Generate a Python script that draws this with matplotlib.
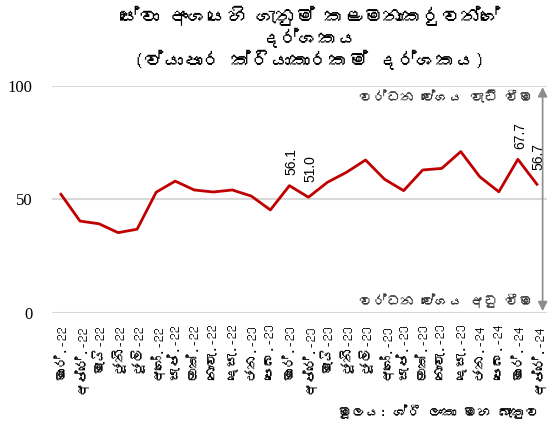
import matplotlib
matplotlib.use("Agg")
import matplotlib.pyplot as plt
from matplotlib import font_manager
from matplotlib.ft2font import FT2Font

# months (Mar-22 .. Apr-24) and index values
months = ["මාර්.-22", "අප්‍රේ.-22", "මැයි-22", "ජූනි-22", "ජූලි-22", "අගෝ.-22",
          "සැප්.-22", "ඔක්.-22", "නොවැ.-22", "දෙසැ.-22", "ජන.-23", "පෙබ.-23",
          "මාර්.-23", "අප්‍රේ.-23", "මැයි-23", "ජූනි-23", "ජූලි-23", "අගෝ.-23",
          "සැප්.-23", "ඔක්.-23", "නොවැ.-23", "දෙසැ.-23", "ජන.-24", "පෙබ.-24",
          "මාර්.-24", "අප්‍රේ.-24"]
values = [52.3, 40.5, 39.3, 35.4, 36.9, 53.2, 58.1, 54.2, 53.3, 54.2, 51.5, 45.4,
          56.1, 51.0, 57.6, 62.0, 67.4, 58.9, 53.9, 63.0, 63.7, 71.1, 60.0, 53.4,
          67.7, 56.7]
labelled = {12: "56.1", 13: "51.0", 24: "67.7", 25: "56.7"}
yticks = [0, 50, 100]

title = "සේවා අංශයෙහි ගැනුම් කළමනාකරුවන්ගේ\nදර්ශකය\n(ව්‍යාපාර ක්‍රියාකාරකම් දර්ශකය)"
up_txt = "වර්ධන වේගය වැඩි වීම"
down_txt = "වර්ධන වේගය අඩු වීම"
source = "මූලය: ශ්‍රී ලංකා මහ බැංකුව"


# look for any installed font that has Sinhala glyphs
def find_font(ch):
    for f in font_manager.fontManager.ttflist:
        try:
            if ord(ch) in FT2Font(f.fname).get_charmap():
                return f.name
        except Exception:
            pass
    return None


def clean(s):
    # no shaping engine here, so the zero width joiner would show as a box
    return s.replace("\u200d", "")


sin = find_font("ක")
fam = [sin, "DejaVu Sans"] if sin else ["DejaVu Sans"]
plt.rcParams["font.family"] = fam

fig = plt.figure(figsize=(5.49, 4.26), dpi=100)
ax = fig.add_axes([52 / 549, 1 - 313 / 426, 495 / 549, 227 / 426])

x = list(range(len(values)))
ax.plot(x, values, color="#c00000", lw=2, zorder=3)

for i, t in labelled.items():
    off = 4.5 if i % 2 == 0 else 6.5
    ax.text(i + 0.1, values[i] + off, t, rotation=90, ha="center", va="bottom",
            fontsize=10, family="Liberation Sans")

ax.set_xlim(-0.47, 25.53)
ax.set_ylim(0, 100)
ax.set_yticks(yticks)
ax.set_yticklabels([str(v) for v in yticks], family="Liberation Serif", fontsize=12)
ax.set_xticks(x)
ax.set_xticklabels([clean(m) for m in months], rotation=90, fontsize=10, family=fam)
ax.tick_params(length=0)
ax.tick_params(axis="y", pad=14)
ax.tick_params(axis="x", pad=8)
ax.grid(axis="y", color="#d9d9d9", lw=1.5)
ax.set_axisbelow(True)
for s in ax.spines.values():
    s.set_visible(False)

# growth direction arrow
ax.annotate("", xy=(25.3, 99.5), xytext=(25.3, 0.8),
            arrowprops=dict(arrowstyle="<|-|>", color="#8c8c8c", lw=1.2,
                            mutation_scale=14, shrinkA=0, shrinkB=0))
ax.text(24.8, 95, clean(up_txt), ha="right", va="center", fontsize=10, color="#333333")
ax.text(24.8, 5.5, clean(down_txt), ha="right", va="center", fontsize=10, color="#333333")

fig.text(310 / 549, 1 - 6 / 426, clean(title), ha="center", va="top", fontsize=14,
         fontweight="bold", linespacing=1.1)
fig.text(540 / 549, 1 - 412 / 426, clean(source), ha="right", va="center", fontsize=10)

fig.savefig("out.png", dpi=100)
